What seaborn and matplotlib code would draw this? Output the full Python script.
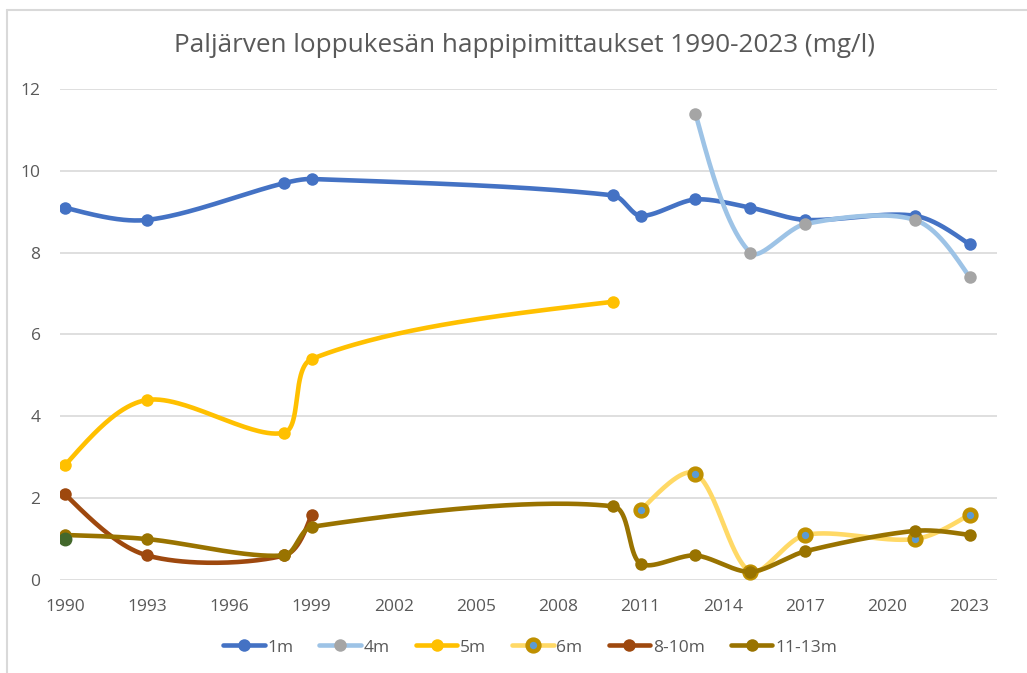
import numpy as np
import pandas as pd
import matplotlib
matplotlib.use("Agg")
import matplotlib.pyplot as plt
from matplotlib.lines import Line2D
import seaborn as sns

# ===============================
# DATA (mg/l, loppukesä)
# ===============================
years_1m = [1990, 1993, 1998, 1999, 2010, 2011, 2013, 2015, 2017, 2021, 2023]
vals_1m = [9.1, 8.8, 9.7, 9.8, 9.4, 8.9, 9.3, 9.1, 8.8, 8.9, 8.2]

years_4m = [2013, 2015, 2017, 2021, 2023]
vals_4m = [11.4, 8.0, 8.7, 8.8, 7.4]

years_5m = [1990, 1993, 1998, 1999, 2010]
vals_5m = [2.8, 4.4, 3.6, 5.4, 6.8]

years_6m = [2011, 2013, 2015, 2017, 2021, 2023]
vals_6m = [1.7, 2.6, 0.2, 1.1, 1.0, 1.6]

years_8_10m = [1990, 1993, 1998, 1999]
vals_8_10m = [2.1, 0.6, 0.6, 1.6]

years_11_13m = [1990, 1993, 1998, 1999, 2010, 2011, 2013, 2015, 2017, 2021, 2023]
vals_11_13m = [1.1, 1.0, 0.6, 1.3, 1.8, 0.4, 0.6, 0.2, 0.7, 1.2, 1.1]

# yksittäinen piste ilman selitettä
years_extra = [1990]
vals_extra = [1.0]

x_ticks = list(range(1990, 2024, 3))
y_ticks = [0, 2, 4, 6, 8, 10, 12]

# pikseliä per yksikkö (vain pehmennyksen etäisyyksiin)
PX_X, PX_Y = 27.4, 40.9


def smooth(xs, ys, n=60, t=0.3):
    """Excel-tyylinen pehmennetty viiva (skaalatut tangentit -> Bezier)."""
    p = np.column_stack([np.asarray(xs) * PX_X, np.asarray(ys) * PX_Y]).astype(float)
    m = len(p)
    c_in = p.copy()
    c_out = p.copy()
    for i in range(1, m - 1):
        d0 = np.linalg.norm(p[i] - p[i - 1])
        d1 = np.linalg.norm(p[i + 1] - p[i])
        tan = p[i + 1] - p[i - 1]
        c_in[i] = p[i] - t * d0 / (d0 + d1) * tan
        c_out[i] = p[i] + t * d1 / (d0 + d1) * tan
    # päätepisteet: kontrollipiste kohti naapurin kontrollipistettä
    if m > 2:
        c_out[0] = p[0] + (c_in[1] - p[0]) * 0.5
        c_in[-1] = p[-1] + (c_out[-2] - p[-1]) * 0.5
    s = np.linspace(0, 1, n)[:, None]
    out = []
    for i in range(m - 1):
        seg = ((1 - s) ** 3) * p[i] + 3 * ((1 - s) ** 2) * s * c_out[i] \
            + 3 * (1 - s) * s ** 2 * c_in[i + 1] + s ** 3 * p[i + 1]
        out.append(seg if i == 0 else seg[1:])
    out = np.vstack(out)
    return out[:, 0] / PX_X, out[:, 1] / PX_Y


# ===============================
# FIGURE
# ===============================
sns.set_theme(style="white")
plt.rcParams["font.family"] = ["Open Sans", "DejaVu Sans"]
txt = "#595959"

fig = plt.figure(figsize=(10.27, 6.73), dpi=100)
ax = fig.add_axes([0.0584, 0.1382, 0.9124, 0.7296])

series = [
    ("1m", years_1m, vals_1m, "#4472C4", "#4472C4", "#4472C4", 9),
    ("4m", years_4m, vals_4m, "#9DC3E6", "#A5A5A5", "#A5A5A5", 9),
    ("5m", years_5m, vals_5m, "#FFC000", "#FFC000", "#FFC000", 9),
    ("6m", years_6m, vals_6m, "#FFD966", "#5B9BD5", "#BF9000", 8.5),
    ("8-10m", years_8_10m, vals_8_10m, "#9E480E", "#9E480E", "#9E480E", 9),
    ("11-13m", years_11_13m, vals_11_13m, "#997300", "#997300", "#997300", 9),
]

handles = []
for i, (name, xs, ys, lc, mfc, mec, ms) in enumerate(series):
    sx, sy = smooth(xs, ys)
    sns.lineplot(x=sx, y=sy, sort=False, ax=ax, color=lc, lw=3.3,
                 solid_capstyle="round", zorder=2 + i)
    mew = 3.2 if name == "6m" else 0
    ax.plot(xs, ys, ls="none", marker="o", ms=ms, mfc=mfc, mec=mec,
            mew=mew, zorder=2.5 + i)
    handles.append(Line2D([], [], color=lc, lw=3.3, marker="o", ms=ms,
                          mfc=mfc, mec=mec, mew=mew))

ax.plot(years_extra, vals_extra, ls="none", marker="o", ms=9,
        color="#43682B", zorder=10)

ax.set_xlim(1989.82, 2024.0)
ax.set_ylim(0, 12)
ax.set_xticks(x_ticks)
ax.set_yticks(y_ticks)
ax.grid(axis="y", color="#D9D9D9", lw=1.2)
ax.grid(axis="x", visible=False)
for s in ax.spines.values():
    s.set_visible(False)
ax.tick_params(length=0, labelsize=12.5, colors=txt)
ax.tick_params(axis="x", pad=14)
ax.tick_params(axis="y", pad=14)
ax.set_xlabel("")
ax.set_ylabel("")

fig.text(0.511, 0.932, "Paljärven loppukesän happipimittaukset 1990-2023 (mg/l)",
         ha="center", va="center", fontsize=18.8, color=txt)

fig.legend(handles, [s[0] for s in series], loc="center", ncol=6,
           bbox_to_anchor=(0.516, 0.038), frameon=False, fontsize=12.5,
           labelcolor=txt, handlelength=2.4, handletextpad=0.15,
           columnspacing=1.5)

# kaavion reunaviiva (vasen ja ylä)
fig.add_artist(Line2D([0.007, 0.007], [0.0, 0.985], transform=fig.transFigure,
                      color="#D9D9D9", lw=1.5))
fig.add_artist(Line2D([0.007, 1.0], [0.985, 0.985], transform=fig.transFigure,
                      color="#D9D9D9", lw=1.5))

plt.savefig("out.png", dpi=100)
plt.close()
